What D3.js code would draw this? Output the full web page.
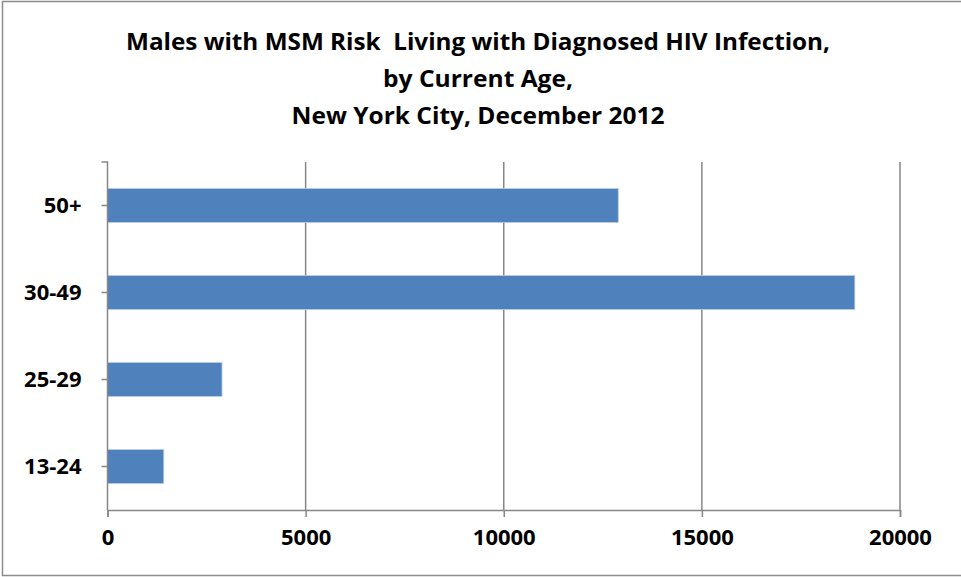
<!DOCTYPE html>
<html>
<head>
<meta charset="utf-8">
<script src="https://cdn.jsdelivr.net/npm/d3@7"></script>
<style>
  html, body { margin: 0; padding: 0; background: #fff; }
  svg { display: block; }
  text { font-family: "Open Sans", "DejaVu Sans", sans-serif; font-weight: bold; fill: #000; }
</style>
</head>
<body>
<svg id="chart" width="961" height="577"></svg>
<script>
// ---- data ----
const categories = ["50+", "30-49", "25-29", "13-24"];
const values = [12890, 18860, 2890, 1420];
const xTicks = [0, 5000, 10000, 15000, 20000];
const titleLines = [
  "Males with MSM Risk  Living with Diagnosed HIV Infection,",
  "by Current Age,",
  "New York City, December 2012"
];

// ---- layout ----
const W = 961, H = 577;
const plot = { left: 107.5, right: 900, top: 162, bottom: 510 };
const svg = d3.select("#chart");

// outer border
svg.append("rect")
  .attr("x", 2.5).attr("y", 1.5)
  .attr("width", W + 10).attr("height", 574)
  .attr("fill", "#fff").attr("stroke", "#8c8c8c").attr("stroke-width", 1.5);

// title
const titleWidths = [704, 190, 373];
const titleBaselines = [50, 87, 124];
svg.append("g").selectAll("text").data(titleLines).join("text")
  .attr("x", 478).attr("y", (d, i) => titleBaselines[i])
  .attr("text-anchor", "middle")
  .attr("font-size", 24)
  .style("white-space", "pre")
  .attr("xml:space", "preserve")
  .attr("textLength", (d, i) => titleWidths[i])
  .attr("lengthAdjust", "spacingAndGlyphs")
  .text(d => d);

// scales
const x = d3.scaleLinear().domain([0, 20000]).range([plot.left, plot.right]);
const y = d3.scaleBand().domain(categories).range([plot.top, plot.bottom])
  .paddingInner(0.61).paddingOuter(0.305);

const gridColor = "#878787";

// gridlines
svg.append("g").selectAll("line").data(xTicks.filter(d => d > 0)).join("line")
  .attr("x1", d => x(d)).attr("x2", d => x(d))
  .attr("y1", plot.top).attr("y2", plot.bottom)
  .attr("stroke", gridColor).attr("stroke-width", 1.5);

// bars
svg.append("g").selectAll("rect").data(categories).join("rect")
  .attr("x", x(0))
  .attr("y", d => y(d))
  .attr("width", (d, i) => x(values[i]) - x(0))
  .attr("height", y.bandwidth())
  .attr("fill", "#4f81bd")
  .attr("stroke", "#b9cde5").attr("stroke-width", 0.8);

// x axis
const xAxis = d3.axisBottom(x).tickValues(xTicks).tickSize(7).tickPadding(12)
  .tickFormat(d3.format("d"));
const gx = svg.append("g").attr("transform", `translate(0,${plot.bottom})`).call(xAxis);
gx.select(".domain").attr("stroke", gridColor).attr("stroke-width", 1.5);
gx.selectAll(".tick line").attr("stroke", gridColor).attr("stroke-width", 1.5);
gx.selectAll(".tick text").attr("font-size", 22).attr("font-family", "Open Sans")
  .attr("font-weight", "bold").attr("fill", "#000").attr("dy", "0.71em");

// y axis
const yAxis = d3.axisLeft(y).tickSize(6).tickPadding(20).tickSizeOuter(6);
const gy = svg.append("g").attr("transform", `translate(${plot.left},0)`).call(yAxis);
gy.select(".domain").attr("stroke", gridColor).attr("stroke-width", 1.5)
  .attr("d", `M-6,${plot.top}H0V${plot.bottom}`);
gy.selectAll(".tick line").attr("stroke", gridColor).attr("stroke-width", 1.5);
gy.selectAll(".tick text").attr("font-size", 22).attr("font-family", "Open Sans")
  .attr("font-weight", "bold").attr("fill", "#000").attr("x", -26);
</script>
</body>
</html>
